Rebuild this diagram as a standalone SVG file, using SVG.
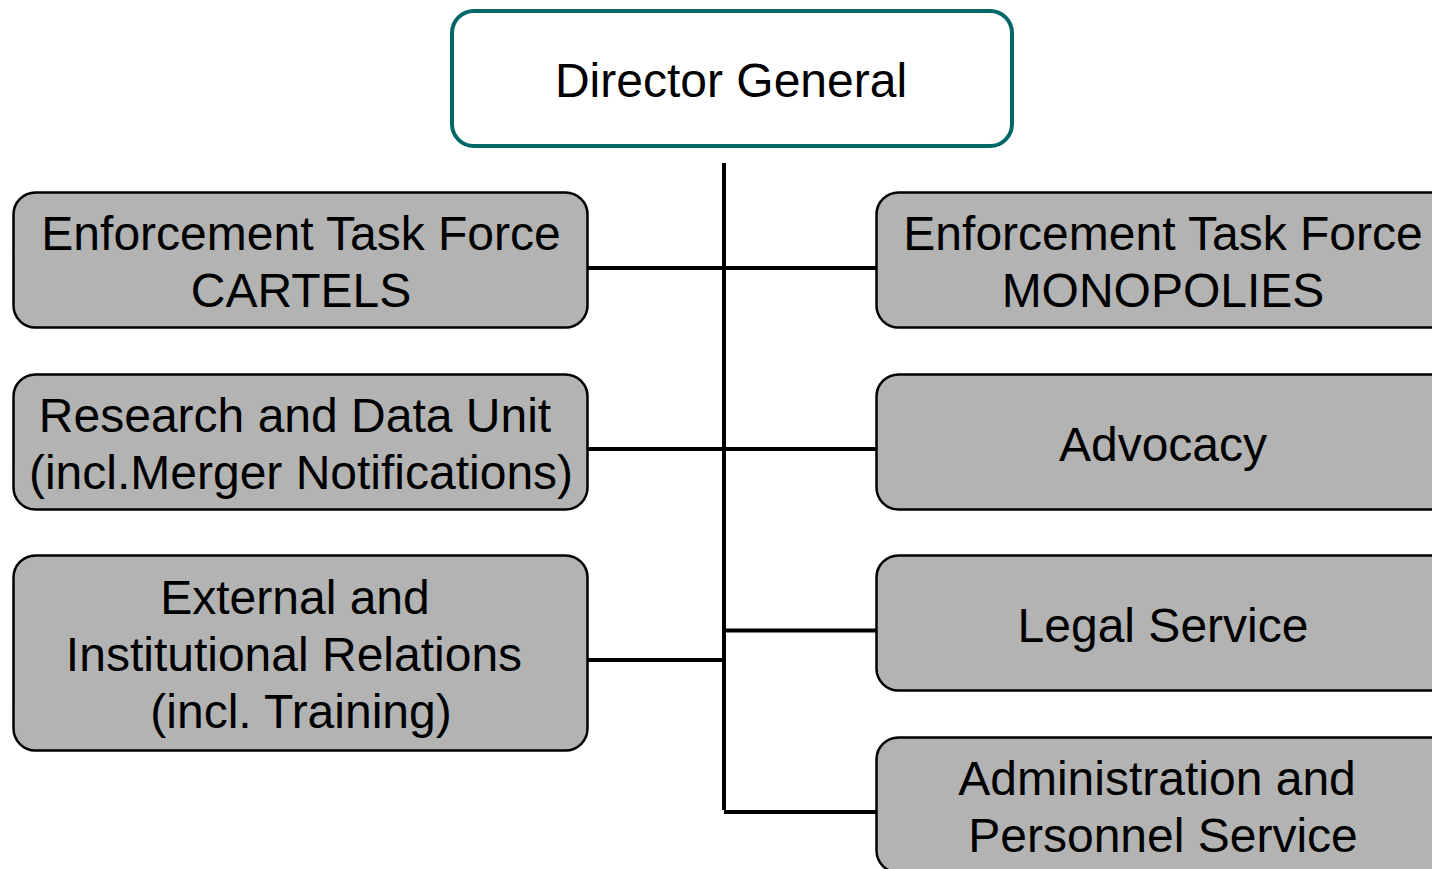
<svg xmlns="http://www.w3.org/2000/svg" width="1432" height="869" viewBox="0 0 1432 869">
  <style>
    .unit { fill: #b3b3b3; stroke: #000000; stroke-width: 2.5; }
    .head { fill: #ffffff; stroke: #006766; stroke-width: 4; }
    .label { font-family: "Liberation Sans", Arial, sans-serif; font-size: 48px; fill: #000000; text-anchor: middle; }
    .link { stroke: #000000; stroke-width: 4; fill: none; }
  </style>
  <rect width="1432" height="869" fill="#ffffff"/>

  <!-- connectors -->
  <g id="connectors">
    <line class="link" x1="724" y1="163" x2="724" y2="810"/>
    <line class="link" x1="588" y1="268" x2="876" y2="268"/>
    <line class="link" x1="588" y1="449" x2="876" y2="449"/>
    <line class="link" x1="588" y1="660" x2="724" y2="660"/>
    <line class="link" x1="724" y1="630.5" x2="876" y2="630.5"/>
    <line class="link" x1="724" y1="812" x2="876" y2="812"/>
  </g>

  <g id="director-general">
    <rect class="head" x="452" y="11" width="560" height="135" rx="22"/>
    <text class="label" x="731" y="97">Director General</text>
  </g>

  <g id="cartels">
    <rect class="unit" x="13.5" y="192.5" width="574" height="135" rx="22"/>
    <text class="label" x="301" y="250">Enforcement Task Force</text>
    <text class="label" x="301" y="307">CARTELS</text>
  </g>

  <g id="research-data">
    <rect class="unit" x="13.5" y="374.5" width="574" height="135" rx="22"/>
    <text class="label" x="295" y="432">Research and Data Unit</text>
    <text class="label" x="301" y="489">(incl.Merger Notifications)</text>
  </g>

  <g id="external-relations">
    <rect class="unit" x="13.5" y="555.5" width="574" height="195" rx="22"/>
    <text class="label" x="295" y="614">External and</text>
    <text class="label" x="294" y="671">Institutional Relations</text>
    <text class="label" x="301" y="728">(incl. Training)</text>
  </g>

  <g id="monopolies">
    <rect class="unit" x="876.5" y="192.5" width="580" height="135" rx="22"/>
    <text class="label" x="1163" y="250">Enforcement Task Force</text>
    <text class="label" x="1163" y="307">MONOPOLIES</text>
  </g>

  <g id="advocacy">
    <rect class="unit" x="876.5" y="374.5" width="580" height="135" rx="22"/>
    <text class="label" x="1163" y="461">Advocacy</text>
  </g>

  <g id="legal-service">
    <rect class="unit" x="876.5" y="555.5" width="580" height="135" rx="22"/>
    <text class="label" x="1163" y="642">Legal Service</text>
  </g>

  <g id="administration">
    <rect class="unit" x="876.5" y="737.5" width="580" height="135" rx="22"/>
    <text class="label" x="1157" y="795">Administration and</text>
    <text class="label" x="1163" y="852">Personnel Service</text>
  </g>
</svg>
